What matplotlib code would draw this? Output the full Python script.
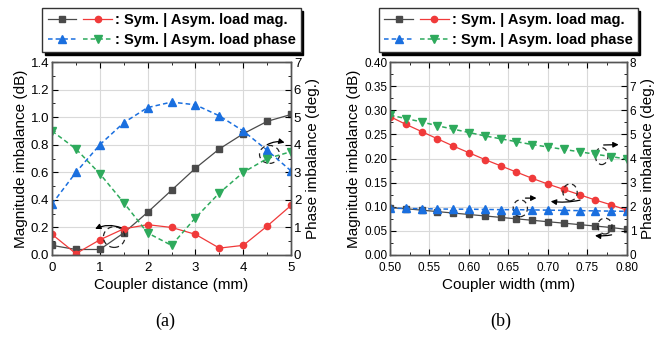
import numpy as np
import matplotlib.pyplot as plt
from matplotlib.patches import Ellipse
from matplotlib.legend_handler import HandlerTuple
from matplotlib.ticker import MultipleLocator

plt.rcParams['font.family'] = ['Liberation Sans', 'DejaVu Sans']

# panel (a): coupler distance sweep
dist_mm = [0, 0.5, 1.0, 1.5, 2.0, 2.5, 3.0, 3.5, 4.0, 4.5, 5.0]
a_sym_mag = [0.07, 0.04, 0.04, 0.16, 0.31, 0.47, 0.63, 0.77, 0.88, 0.97, 1.02]
a_asym_mag = [0.15, 0.01, 0.11, 0.19, 0.22, 0.20, 0.15, 0.05, 0.07, 0.21, 0.36]
a_sym_phase = [1.85, 3.0, 4.0, 4.8, 5.35, 5.55, 5.45, 5.05, 4.5, 3.8, 3.05]
a_asym_phase = [4.5, 3.85, 2.95, 1.9, 0.8, 0.35, 1.35, 2.25, 3.0, 3.5, 3.75]

# panel (b): coupler width sweep
width_mm = [0.50, 0.52, 0.54, 0.56, 0.58, 0.60, 0.62, 0.64, 0.66, 0.68,
            0.70, 0.72, 0.74, 0.76, 0.78, 0.80]
b_sym_mag = [0.098, 0.096, 0.093, 0.090, 0.087, 0.084, 0.081, 0.078, 0.075,
             0.072, 0.069, 0.066, 0.063, 0.060, 0.057, 0.053]
b_asym_mag = [0.287, 0.271, 0.256, 0.241, 0.226, 0.212, 0.198, 0.185, 0.172,
              0.159, 0.147, 0.136, 0.125, 0.114, 0.104, 0.093]
b_sym_phase = [1.94, 1.93, 1.92, 1.91, 1.90, 1.90, 1.89, 1.88, 1.88, 1.87,
               1.86, 1.85, 1.84, 1.83, 1.82, 1.81]
b_asym_phase = [5.80, 5.66, 5.52, 5.36, 5.22, 5.08, 4.94, 4.82, 4.70, 4.58,
                4.48, 4.38, 4.28, 4.18, 4.08, 3.98]

C_BLK = '#4a4a4a'
C_RED = '#f03a3a'
C_BLU = '#1a6fdf'
C_GRN = '#2eaa5c'


def style_axes(ax, ax2, tick_size):
    ax.grid(True, color='#d9d9d9', linewidth=0.8)
    ax.set_axisbelow(True)
    ax.tick_params(which='both', direction='in', top=True, labelsize=tick_size,
                   pad=2)
    ax.tick_params(axis='x', pad=5)
    ax.tick_params(which='major', length=4)
    ax.tick_params(which='minor', length=2)
    ax2.tick_params(which='both', direction='in', labelsize=tick_size, pad=2)
    ax2.tick_params(which='major', length=4)
    ax2.tick_params(which='minor', length=2)
    for a in (ax, ax2):
        for s in a.spines.values():
            s.set_color('#555555')
            s.set_linewidth(1.0)


def draw_panel(ax, x, sym_mag, asym_mag, sym_phase, asym_phase, ms):
    ax2 = ax.twinx()
    l1, = ax.plot(x, sym_mag, color=C_BLK, marker='s', ms=ms, lw=0.9)
    l2, = ax.plot(x, asym_mag, color=C_RED, marker='o', ms=ms, lw=0.9)
    l3, = ax2.plot(x, sym_phase, color=C_BLU, marker='^', ms=ms + 1, lw=1.1,
                   ls=(0, (3, 2)))
    l4, = ax2.plot(x, asym_phase, color=C_GRN, marker='v', ms=ms + 1, lw=1.1,
                   ls=(0, (3, 2)))
    ax.legend([(l1, l2), (l3, l4)],
              [': Sym. | Asym. load mag.', ': Sym. | Asym. load phase'],
              handler_map={tuple: HandlerTuple(ndivide=None, pad=0.5)},
              handlelength=4.4, loc='center', bbox_to_anchor=(0.5, 1.165),
              frameon=True, fancybox=False, shadow={'color': 'black', 'alpha': 1},
              edgecolor='#333333', framealpha=1,
              prop={'weight': 'bold', 'size': 10.5},
              borderpad=0.35, labelspacing=0.4, handletextpad=0.2,
              borderaxespad=0)
    return ax2


def ring(ax, xy, w, h):
    ax.add_patch(Ellipse(xy, w, h, fill=False, ls=(0, (4, 3)), lw=0.9,
                         color='#222222', zorder=5))


def arrow(ax, start, end, rad=0.0):
    ax.annotate('', xy=end, xytext=start,
                arrowprops=dict(arrowstyle='-|>', color='black', lw=0.9,
                                mutation_scale=8,
                                connectionstyle=f'arc3,rad={rad}'),
                zorder=6)


fig = plt.figure(figsize=(6.55, 3.39), dpi=100)

# ---- (a)
axa = fig.add_axes([0.0794, 0.2478, 0.365, 0.569])
axa2 = draw_panel(axa, dist_mm, a_sym_mag, a_asym_mag, a_sym_phase,
                  a_asym_phase, 4.5)
axa.set_xlim(0, 5)
axa.set_ylim(0, 1.4)
axa2.set_ylim(0, 7)
axa.xaxis.set_major_locator(MultipleLocator(1))
axa.xaxis.set_minor_locator(MultipleLocator(0.5))
axa.yaxis.set_major_locator(MultipleLocator(0.2))
axa.yaxis.set_minor_locator(MultipleLocator(0.1))
axa2.yaxis.set_major_locator(MultipleLocator(1))
axa2.yaxis.set_minor_locator(MultipleLocator(0.5))
axa.set_xlabel('Coupler distance (mm)', fontsize=11, labelpad=3)
axa.set_ylabel('Magnitude imbalance (dB)', fontsize=11, labelpad=2)
axa2.set_ylabel('Phase imbalance (deg.)', fontsize=11, labelpad=3)
style_axes(axa, axa2, 9.5)
ring(axa, (1.3, 0.13), 0.45, 0.15)
arrow(axa, (1.5, 0.19), (0.85, 0.18), rad=0.25)
ring(axa, (4.55, 0.73), 0.42, 0.13)
arrow(axa, (4.45, 0.79), (4.92, 0.81), rad=-0.25)

# ---- (b)
axb = fig.add_axes([0.5954, 0.2478, 0.3618, 0.569])
axb2 = draw_panel(axb, width_mm, b_sym_mag, b_asym_mag, b_sym_phase,
                  b_asym_phase, 4.5)
axb.set_xlim(0.5, 0.8)
axb.set_ylim(0, 0.4)
axb2.set_ylim(0, 8)
axb.xaxis.set_major_locator(MultipleLocator(0.05))
axb.xaxis.set_minor_locator(MultipleLocator(0.025))
axb.yaxis.set_major_locator(MultipleLocator(0.05))
axb.yaxis.set_minor_locator(MultipleLocator(0.025))
axb2.yaxis.set_major_locator(MultipleLocator(1))
axb2.yaxis.set_minor_locator(MultipleLocator(0.5))
axb.set_xlabel('Coupler width (mm)', fontsize=11, labelpad=3)
axb.set_ylabel('Magnitude imbalance (dB)', fontsize=11, labelpad=2)
axb2.set_ylabel('Phase imbalance (deg.)', fontsize=11, labelpad=3)
style_axes(axb, axb2, 8.5)
ring(axb, (0.665, 0.097), 0.018, 0.035)
arrow(axb, (0.668, 0.118), (0.689, 0.118))
ring(axb, (0.728, 0.13), 0.018, 0.035)
arrow(axb, (0.744, 0.115), (0.70, 0.112), rad=-0.1)
ring(axb, (0.772, 0.06), 0.018, 0.033)
arrow(axb, (0.784, 0.043), (0.756, 0.041), rad=-0.1)
ring(axb, (0.768, 0.205), 0.016, 0.035)
arrow(axb, (0.767, 0.228), (0.793, 0.229))

fig.text(0.252, 0.04, '(a)', fontsize=13, family='Liberation Serif', ha='center')
fig.text(0.765, 0.04, '(b)', fontsize=13, family='Liberation Serif', ha='center')

fig.savefig('out.png', dpi=100)
